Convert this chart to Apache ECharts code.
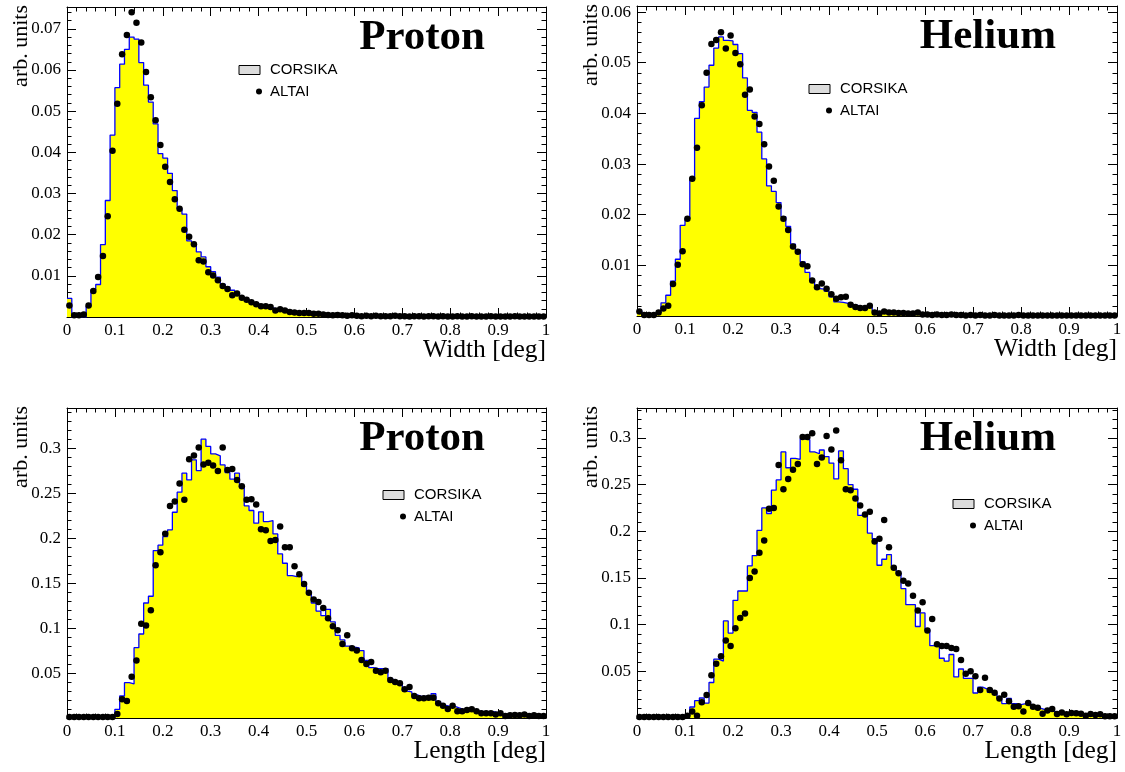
<!DOCTYPE html>
<html>
<head>
<meta charset="utf-8">
<script src="https://cdn.jsdelivr.net/npm/echarts@6/dist/echarts.min.js"></script>
<style>html,body{margin:0;padding:0;background:#fff}#c{width:1125px;height:772px}</style>
</head>
<body>
<div id="c"></div>
<script>
// ---------- data (100 bins of width 0.01 from 0 to 1) ----------
const binWidth = 0.01;
const xTicks = ['0','0.1','0.2','0.3','0.4','0.5','0.6','0.7','0.8','0.9','1'];

const protonWidthCorsika = [
 0.0045,0,0,0,0.0026,0.0066,0.0079,0.0176,0.0283,0.0442,
 0.0557,0.0614,0.065,0.068,0.0675,0.0618,0.0563,0.0522,0.0469,0.0397,
 0.0386,0.0349,0.0307,0.0263,0.025,0.0185,0.0178,0.0158,0.0146,0.0122,
 0.011,0.0097,0.008,0.0073,0.0065,0.0055,0.0048,0.0043,0.0037,0.0032,
 0.0028,0.0025,0.0022,0.0019,0.0017,0.0015,0.0013,0.0011,0.001,0.0009,
 0.0008,0.0007,0.0007,0.0006,0.0005,0.0005,0.0004,0.0004,0.0004,0.0003,
 0.0003,0.0003,0.0003,0.0002,0.0002,0.0002,0.0002,0.0002,0.0002,0.0002,
 0.0002,0.0001,0.0001,0.0001,0.0001,0.0001,0.0001,0.0001,0.0001,0.0001,
 0.0001,0.0001,0.0001,0.0001,0.0001,0.0001,0.0001,0.0001,0.0001,0.0001,
 0.0001,0.0001,0.0001,0.0001,0.0001,0.0001,0.0001,0.0001,0.0001,0.0001];
const protonWidthAltai = [
 0.0028,0.0004,0.0004,0.0006,0.0028,0.0063,0.0097,0.0148,0.0245,0.0404,
 0.0518,0.0638,0.0685,0.074,0.0715,0.0667,0.0595,0.0534,0.0478,0.0418,
 0.0365,0.0328,0.0286,0.0263,0.0212,0.0195,0.0177,0.0138,0.0135,0.0109,
 0.0101,0.0089,0.0075,0.0068,0.0053,0.0057,0.0047,0.0042,0.0036,0.0031,
 0.0026,0.0026,0.0024,0.0016,0.0019,0.0016,0.0012,0.0011,0.001,0.001,
 0.001,0.0008,0.0008,0.0006,0.0005,0.0004,0.0005,0.0004,0.0003,0.0004,
 0.0003,0.0002,0.0003,0.0002,0.0003,0.0002,0.0002,0.0002,0.0003,0.0002,
 0.0002,0.0001,0.0002,0.0002,0.0001,0.0002,0.0002,0.0001,0.0002,0.0001,
 0.0001,0.0002,0.0001,0.0001,0.0002,0.0001,0.0001,0.0001,0.0002,0.0001,
 0.0001,0.0001,0.0001,0.0002,0.0001,0.0001,0.0001,0.0001,0.0001,0.0001];

const heliumWidthCorsika = [
 0.001,0.0002,0.0002,0.0002,0.0007,0.0026,0.0041,0.0069,0.0112,0.0179,
 0.0192,0.027,0.039,0.0423,0.0452,0.0495,0.0529,0.0551,0.0544,0.0543,
 0.0536,0.0518,0.047,0.0406,0.0402,0.0363,0.031,0.0257,0.0246,0.0224,
 0.0196,0.0177,0.0142,0.013,0.0107,0.0086,0.007,0.0054,0.0053,0.0049,
 0.0038,0.0028,0.0027,0.0025,0.0023,0.0021,0.0018,0.0018,0.0017,0.0009,
 0.0008,0.0007,0.0006,0.0005,0.0005,0.0004,0.0004,0.0003,0.0003,0.0003,
 0.0002,0.0002,0.0002,0.0002,0.0002,0.0002,0.0002,0.0002,0.0002,0.0002,
 0.0001,0.0001,0.0001,0.0001,0.0001,0.0001,0.0001,0.0001,0.0001,0.0001,
 0.0001,0.0001,0.0001,0.0001,0.0001,0.0001,0.0001,0.0001,0.0001,0.0001,
 0.0001,0.0001,0.0001,0.0001,0.0001,0.0001,0.0001,0.0001,0.0001,0.0001];
const heliumWidthAltai = [
 0.0009,0.0002,0.0002,0.0002,0.0007,0.0015,0.002,0.0063,0.0101,0.0128,
 0.0192,0.0271,0.0332,0.0416,0.048,0.0537,0.0545,0.056,0.0528,0.0554,
 0.0519,0.0497,0.0437,0.0447,0.0394,0.0379,0.0339,0.0295,0.0267,0.0216,
 0.0192,0.017,0.0137,0.0127,0.0102,0.0098,0.007,0.0057,0.0064,0.0054,
 0.0043,0.0034,0.0037,0.0038,0.0022,0.0018,0.0016,0.0016,0.002,0.0007,
 0.0005,0.0009,0.0007,0.0007,0.0006,0.0006,0.0005,0.0005,0.0007,0.0003,
 0.0003,0.0002,0.0003,0.0002,0.0002,0.0003,0.0002,0.0002,0.0001,0.0002,
 0.0001,0.0002,0.0001,0.0001,0.0002,0.0001,0.0001,0.0001,0.0001,0.0002,
 0.0001,0.0001,0.0001,0.0001,0.0001,0.0001,0.0001,0.0001,0.0001,0.0001,
 0.0001,0.0001,0.0001,0.0001,0.0001,0.0001,0.0001,0.0001,0.0001,0.0001];

const protonLengthCorsika = [
 0.0003,0.0003,0.0003,0.0003,0.0003,0.0003,0.0003,0.0003,0.0003,0.0003,
 0.0097,0.0245,0.0393,0.0379,0.0783,0.0935,0.128,0.1355,0.1863,0.1923,
 0.2019,0.2094,0.229,0.2513,0.2725,0.265,0.2873,0.2754,0.3103,0.3022,
 0.294,0.2918,0.2817,0.2732,0.2658,0.2725,0.2569,0.2361,0.2309,0.2168,
 0.2294,0.2186,0.2197,0.2049,0.1826,0.1722,0.1585,0.1574,0.1592,0.147,
 0.138,0.128,0.119,0.114,0.121,0.107,0.092,0.087,0.08,0.079,
 0.078,0.075,0.064,0.056,0.055,0.055,0.055,0.044,0.041,0.038,
 0.03,0.029,0.026,0.024,0.024,0.024,0.027,0.018,0.014,0.013,
 0.013,0.011,0.009,0.008,0.008,0.008,0.007,0.007,0.007,0.006,
 0.004,0.003,0.003,0.003,0.003,0.0025,0.0025,0.002,0.002,0.002];
const protonLengthAltai = [
 0.001,0.001,0.001,0.001,0.001,0.001,0.001,0.001,0.001,0.001,
 0.0045,0.021,0.019,0.046,0.064,0.105,0.103,0.12,0.17,0.1845,
 0.205,0.236,0.241,0.261,0.243,0.288,0.292,0.301,0.282,0.284,
 0.281,0.275,0.301,0.276,0.277,0.265,0.258,0.243,0.2435,0.2375,
 0.21,0.209,0.197,0.198,0.213,0.19,0.19,0.169,0.16,0.149,
 0.1395,0.132,0.129,0.1225,0.111,0.102,0.0976,0.0824,0.092,0.0776,
 0.075,0.0646,0.06,0.0624,0.0527,0.0509,0.0527,0.0423,0.04,0.0386,
 0.0319,0.0345,0.0245,0.022,0.022,0.0226,0.0226,0.0163,0.0137,0.01,
 0.0137,0.0074,0.0074,0.0089,0.0097,0.0074,0.0052,0.0052,0.0052,0.004,
 0.0052,0.0022,0.003,0.0033,0.003,0.004,0.0022,0.003,0.0022,0.0022];

const heliumLengthCorsika = [
 0.0003,0.0003,0.0003,0.0003,0.0003,0.0003,0.0003,0.0003,0.0003,0.0003,
 0.0025,0.0118,0.0186,0.0214,0.016,0.038,0.063,0.061,0.104,0.091,
 0.126,0.136,0.136,0.163,0.174,0.201,0.225,0.219,0.244,0.255,
 0.285,0.268,0.278,0.277,0.299,0.298,0.285,0.283,0.287,0.28,
 0.273,0.256,0.286,0.267,0.25,0.245,0.217,0.217,0.198,0.192,
 0.1636,0.17,0.175,0.161,0.155,0.1386,0.1214,0.1214,0.098,0.1125,
 0.0946,0.0775,0.0775,0.064,0.061,0.068,0.044,0.0525,0.0425,0.0425,
 0.0268,0.033,0.031,0.0275,0.026,0.0214,0.0154,0.021,0.0154,0.0143,
 0.0154,0.017,0.0107,0.0107,0.009,0.008,0.007,0.006,0.0054,0.0043,
 0.0036,0.0034,0.0032,0.003,0.0028,0.0026,0.0024,0.0022,0.002,0.002];
const heliumLengthAltai = [
 0.001,0.001,0.001,0.001,0.001,0.001,0.001,0.001,0.001,0.001,
 0.0025,0.007,0.0025,0.0168,0.0246,0.0457,0.058,0.066,0.083,0.077,
 0.096,0.107,0.112,0.15,0.157,0.177,0.19,0.224,0.225,0.271,
 0.245,0.256,0.266,0.272,0.301,0.301,0.305,0.272,0.279,0.302,
 0.2875,0.308,0.276,0.245,0.244,0.235,0.2275,0.218,0.221,0.189,
 0.192,0.212,0.183,0.161,0.155,0.147,0.144,0.131,0.115,0.124,
 0.0936,0.106,0.079,0.077,0.077,0.075,0.074,0.062,0.0475,0.05,
 0.0446,0.03,0.043,0.03,0.027,0.021,0.025,0.018,0.012,0.0125,
 0.007,0.016,0.012,0.011,0.0046,0.008,0.0096,0.0043,0.006,0.004,
 0.0054,0.005,0.0046,0.0025,0.0043,0.0032,0.004,0.0018,0.0018,0.0018];

const panelTitles = ['Proton','Helium','Proton','Helium'];
const xTitles = ['Width [deg]','Width [deg]','Length [deg]','Length [deg]'];
const yTitle = 'arb. units';
const legendNames = ['CORSIKA','ALTAI'];
const yMax = [0.0753, 0.0612, 0.345, 0.332];
const yStep = [0.01, 0.01, 0.05, 0.05];

// ---------- layout / style ----------
const grids = [
  {left:67, top:7, width:479, height:310},
  {left:637, top:6, width:480, height:310},
  {left:67, top:408, width:479, height:310},
  {left:637, top:408, width:480, height:310}
];
const legendPos = [[239,70],[809,89],[383,495],[953,504]];
const serif = 'Liberation Serif';
const histSets = [protonWidthCorsika, heliumWidthCorsika, protonLengthCorsika, heliumLengthCorsika];
const dotSets = [protonWidthAltai, heliumWidthAltai, protonLengthAltai, heliumLengthAltai];

const xAxes=[], yAxes=[], series=[], graphics=[];
grids.forEach((g,i)=>{
  const common = () => ({gridIndex:i, type:'value', min:0,
    axisLine:{show:true,onZero:false,lineStyle:{color:'#000',width:1}},
    splitLine:{show:false}, axisTick:{show:true,inside:true,length:9,lineStyle:{color:'#000'}},
    minorTick:{show:true,splitNumber:5,length:4.5,lineStyle:{color:'#000'}}});
  xAxes.push(Object.assign(common(), {position:'bottom', max:1, interval:0.1,
    axisLabel:{show:true,margin:5,color:'#000',fontFamily:serif,fontSize:17,
      formatter:v=>xTicks[Math.round(v*10)] ?? ''}}));
  xAxes.push(Object.assign(common(), {position:'top', max:1, interval:0.1, axisLabel:{show:false}}));
  const st = yStep[i];
  yAxes.push(Object.assign(common(), {position:'left', max:yMax[i], interval:st,
    axisLabel:{show:true,margin:6,color:'#000',fontFamily:serif,fontSize:17,showMaxLabel:false,
      formatter:v=>{const r=v/st; if(v<=0||Math.abs(r-Math.round(r))>1e-6) return ''; return String(+v.toFixed(2));}}}));
  yAxes.push(Object.assign(common(), {position:'right', max:yMax[i], interval:st, axisLabel:{show:false}}));

  const h = histSets[i];
  const histData = h.map((v,k)=>[k*binWidth, v]).concat([[h.length*binWidth, h[h.length-1]]]);
  series.push({type:'line', name:legendNames[0], xAxisIndex:2*i, yAxisIndex:2*i, data:histData, step:'end',
    symbol:'none', lineStyle:{color:'#0000ff',width:1.3}, areaStyle:{color:'#ffff00',opacity:1}, z:2});
  series.push({type:'scatter', name:legendNames[1], xAxisIndex:2*i, yAxisIndex:2*i,
    data:dotSets[i].map((v,k)=>[(k+0.5)*binWidth, v]), symbol:'circle', symbolSize:6.5,
    itemStyle:{color:'#000', opacity:1}, z:3});

  // panel title
  graphics.push({type:'text', x:g.left+g.width-61, y:g.top+31, style:{text:panelTitles[i], fill:'#000',
    font:'bold 43px "'+serif+'"', textAlign:'right', textVerticalAlign:'middle'}});
  // x title
  graphics.push({type:'text', x:g.left+g.width, y:g.top+g.height+33, style:{text:xTitles[i], fill:'#000',
    font:'25.5px "'+serif+'"', textAlign:'right', textVerticalAlign:'middle'}});
  // y title
  graphics.push({type:'text', x:g.left-46, y:g.top-2, rotation:Math.PI/2, style:{text:yTitle, fill:'#000',
    font:'22px "'+serif+'"', textAlign:'right', textVerticalAlign:'middle'}});
  // legend
  const [lx,ly] = legendPos[i];
  graphics.push({type:'rect', shape:{x:lx,y:ly-4.5,width:21,height:9}, style:{fill:'#dcdcdc',stroke:'#000',lineWidth:1}});
  graphics.push({type:'text', x:lx+31, y:ly, style:{text:legendNames[0], fill:'#000', font:'15px "Liberation Sans"', textVerticalAlign:'middle'}});
  graphics.push({type:'circle', shape:{cx:lx+20, cy:ly+21.5, r:3}, style:{fill:'#000'}});
  graphics.push({type:'text', x:lx+31, y:ly+21.5, style:{text:legendNames[1], fill:'#000', font:'15px "Liberation Sans"', textVerticalAlign:'middle'}});
});

const chart = echarts.init(document.getElementById('c'), null, {renderer:'canvas'});
chart.setOption({
  animation:false,
  backgroundColor:'#fff',
  grid:grids,
  xAxis:xAxes,
  yAxis:yAxes,
  series:series,
  graphic:graphics
});
</script>
</body>
</html>
